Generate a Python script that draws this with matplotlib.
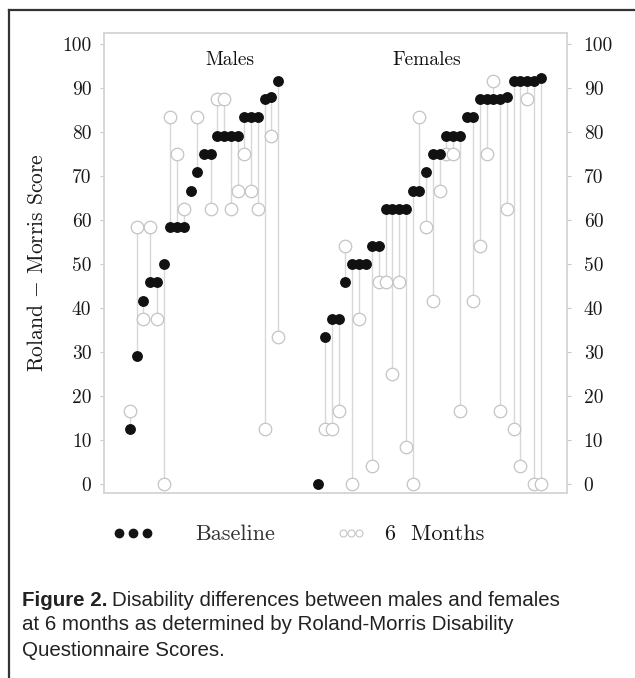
import matplotlib

matplotlib.use("Agg")

import matplotlib.pyplot as plt
import numpy as np
from matplotlib.lines import Line2D

plt.rcParams["font.family"] = "cmr10"
plt.rcParams["mathtext.fontset"] = "cm"
plt.rcParams["axes.unicode_minus"] = False
plt.rcParams["axes.formatter.use_mathtext"] = True

nan = np.nan

# Roland-Morris scores (0-100), one entry per patient, sorted by baseline
# (nan = no visible 6-month mark)
male_baseline = [12.5, 29.2, 41.7, 45.8, 45.8, 50.0, 58.3, 58.3, 58.3, 66.7, 70.8, 75.0,
                 75.0, 79.2, 79.2, 79.2, 79.2, 83.3, 83.3, 83.3, 87.5, 88.0, 91.7]
male_6months = [16.7, 58.3, 37.5, 58.3, 37.5, 0.0, 83.3, 75.0, 62.5, nan, 83.3, nan,
                62.5, 87.5, 87.5, 62.5, 66.7, 75.0, 66.7, 62.5, 12.5, 79.2, 33.3]
female_baseline = [0.0, 33.3, 37.5, 37.5, 45.8, 50.0, 50.0, 50.0, 54.2, 54.2, 62.5, 62.5,
                   62.5, 62.5, 66.7, 66.7, 70.8, 75.0, 75.0, 79.2, 79.2, 79.2, 83.3, 83.3,
                   87.5, 87.5, 87.5, 87.5, 88.0, 91.7, 91.7, 91.7, 91.7, 92.2]
female_6months = [nan, 12.5, 12.5, 16.7, 54.2, 0.0, 37.5, nan, 4.2, 45.8, 45.8, 25.0,
                  45.8, 8.3, 0.0, 83.3, 58.3, 41.7, 66.7, 75.0, 75.0, 16.7, nan, 41.7,
                  54.2, 75.0, 91.7, 16.7, 62.5, 12.5, 4.2, 87.5, 0.0, 0.0]
group_titles = ["Males", "Females"]
y_ticks = list(range(0, 101, 10))
group_gap = 5  # empty slots between the two groups

W, H = 635, 678


def fx(px):
    return px / W


def fy(py):
    return 1 - py / H


fig = plt.figure(figsize=(W / 100, H / 100), dpi=100)
ax = fig.add_axes([fx(104), fy(493), (567 - 104) / W, (493 - 33) / H])

x_male = np.arange(len(male_baseline))
x_female = np.arange(len(female_baseline)) + len(male_baseline) + group_gap
x_all = np.concatenate([x_male, x_female])
base_all = np.array(male_baseline + female_baseline)
six_all = np.array(male_6months + female_6months)
has_six = ~np.isnan(six_all)

ax.vlines(x_all[has_six], base_all[has_six], six_all[has_six], color="#d8d8d8", lw=1.0,
          zorder=1)
ax.plot(x_all[has_six], six_all[has_six], "o", ms=9, mfc="white", mec="#c4c4c4", mew=0.9,
        zorder=2)
ax.plot(x_all, base_all, "o", ms=6.8, color="#111111", zorder=3)

ax.set_xlim(-3.86, 64.93)
ax.set_ylim(-2.05, 102.5)
ax.set_xticks([])
ax.set_yticks(y_ticks, labels=[str(t) for t in y_ticks])
ax.tick_params(axis="y", length=3, color="#c8c8c8", labelsize=14, labelcolor="#1a1a1a", pad=6)
for sp in ax.spines.values():
    sp.set_color("#d4d4d4")
    sp.set_linewidth(1.3)

ax2 = ax.twinx()
ax2.set_ylim(ax.get_ylim())
ax2.set_yticks(y_ticks, labels=[str(t) for t in y_ticks])
ax2.tick_params(axis="y", length=3, color="#c8c8c8", labelsize=14, labelcolor="#1a1a1a", pad=9)
for sp in ax2.spines.values():
    sp.set_visible(False)

ax.set_ylabel(r"Roland $-$ Morris Score", fontsize=15.5, color="#1a1a1a", labelpad=11)

ax.text((230 - 104) / 463, (493 - 60) / 460, group_titles[0], transform=ax.transAxes,
        ha="center", va="center", fontsize=14, color="#111111")
ax.text((427 - 104) / 463, (493 - 60) / 460, group_titles[1], transform=ax.transAxes,
        ha="center", va="center", fontsize=14, color="#111111")

# legend, drawn by hand below the plot
fig.add_artist(Line2D([fx(119), fx(133), fx(147)], [fy(533)] * 3, ls="none", marker="o",
                      ms=6, color="#141414"))
fig.text(fx(195), fy(534), "Baseline", ha="left", va="center", fontsize=16, color="#333333")
fig.add_artist(Line2D([fx(343), fx(351), fx(359)], [fy(533)] * 3, ls="none", marker="o",
                      ms=5, mfc="white", mec="#c4c4c4", mew=0.8))
fig.text(fx(385), fy(534), "6  Months", ha="left", va="center", fontsize=16, color="#1a1a1a")

# figure border (top and left edges)
fig.add_artist(Line2D([fx(9), fx(9)], [fy(10), 0], color="#333333", lw=1.6))
fig.add_artist(Line2D([fx(9), 1], [fy(10), fy(10)], color="#333333", lw=1.6))

# caption
cap_kw = dict(family="Liberation Sans", fontsize=14.8, color="#222222", va="center", ha="left")
bold = fig.text(fx(22), fy(600), "Figure 2.", weight="bold", **cap_kw)
renderer = fig.canvas.get_renderer()
bw = bold.get_window_extent(renderer).width
fig.text(fx(22) + (bw + 4) / W, fy(600), "Disability differences between males and females",
         **cap_kw)
fig.text(fx(22), fy(625), "at 6 months as determined by Roland-Morris Disability", **cap_kw)
fig.text(fx(22), fy(650), "Questionnaire Scores.", **cap_kw)

fig.savefig("out.png", dpi=100)
plt.close(fig)
